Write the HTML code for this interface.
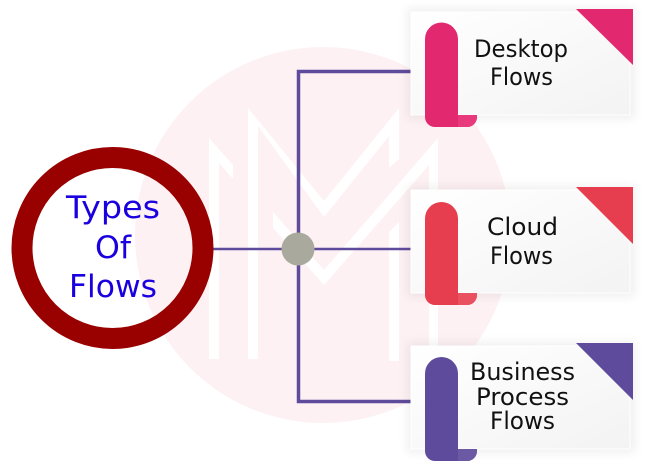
<!DOCTYPE html>
<html>
<head>
<meta charset="utf-8">
<style>
html,body{margin:0;padding:0;background:#fff;width:650px;height:469px;overflow:hidden}
svg{display:block}
text{font-family:"DejaVu Sans",sans-serif;text-anchor:start}
</style>
</head>
<body>
<svg width="650" height="469" viewBox="0 0 650 469" xmlns="http://www.w3.org/2000/svg">
<defs>
<linearGradient id="g" x1="0" y1="0" x2="1" y2="1"><stop offset="0" stop-color="#ffffff"/><stop offset="1" stop-color="#f3f3f3"/></linearGradient>
<filter id="s" x="-15%" y="-25%" width="130%" height="150%"><feGaussianBlur stdDeviation="5"/></filter>
<g id="card">
<rect x="407" y="8" width="228" height="111" fill="#000" opacity=".06" filter="url(#s)"/>
<rect x="411" y="12" width="219" height="103" fill="url(#g)" stroke="#fff" stroke-width="1"/>
</g>
</defs>
<circle cx="323" cy="235" r="188" fill="#fdf1f3"/>
<g fill="#fff">
<path d="M209 138L233 165V179L219 163V359H209Z"/>
<path d="M248 108L324 201L399 108V159L389 168V136L324 217L258 126V359H248Z"/>
<path d="M273 212L324 270L438 138V359H429V165L324 285L273 228Z"/>
<path d="M399 222V361H389V232Z"/>
</g>
<g fill="none" stroke="#5f4b9b">
<path d="M411 71.500H298.500V401.500H411" stroke-width="3.500"/>
<path d="M213 249H411" stroke-width="2.500"/>
</g>
<circle cx="298" cy="249" r="16.500" fill="#a9a99d"/>
<circle cx="112.500" cy="248" r="90.500" fill="none" stroke="#990000" stroke-width="21"/>
<g font-size="31" fill="#1a00df">
<text x="66" y="218" textLength="94" lengthAdjust="spacingAndGlyphs">Types</text>
<text x="95" y="258" textLength="36" lengthAdjust="spacingAndGlyphs">Of</text>
<text x="69" y="297" textLength="88" lengthAdjust="spacingAndGlyphs">Flows</text>
</g>

<use href="#card"/>
<path d="M576 9H633V65Z" fill="#e2296f"/>
<path d="M425 39a16.500 16.500 0 0 1 33 0V115H477V117a10 10 0 0 1-10 10H435a10 10 0 0 1-10-10Z" fill="#e2296f"/>
<path d="M458 115H477V117a10 10 0 0 1-10 10H458Z" fill="#e9397d"/>
<g font-size="24" fill="#111">
<text x="474" y="57" textLength="94" lengthAdjust="spacingAndGlyphs">Desktop</text>
<text x="490" y="85" textLength="63" lengthAdjust="spacingAndGlyphs">Flows</text>
</g>

<g transform="translate(0,178)"><use href="#card"/></g>
<path d="M576 187H633V244Z" fill="#e63e4e"/>
<path d="M425 218.500a16.500 16.500 0 0 1 33 0V293H477V295a10 10 0 0 1-10 10H435a10 10 0 0 1-10-10Z" fill="#e63e4e"/>
<path d="M458 293H477V295a10 10 0 0 1-10 10H458Z" fill="#e95060"/>
<g font-size="24" fill="#111">
<text x="487" y="235" textLength="71" lengthAdjust="spacingAndGlyphs">Cloud</text>
<text x="490" y="264" textLength="63" lengthAdjust="spacingAndGlyphs">Flows</text>
</g>

<g transform="translate(0,334)"><use href="#card"/></g>
<path d="M576 343H633V400Z" fill="#5e4b9b"/>
<path d="M425 373.500a16.500 16.500 0 0 1 33 0V449H477V451a10 10 0 0 1-10 10H435a10 10 0 0 1-10-10Z" fill="#5e4b9b"/>
<path d="M458 449H477V451a10 10 0 0 1-10 10H458Z" fill="#6b5aa3"/>
<g font-size="24" fill="#111">
<text x="470" y="380" textLength="105" lengthAdjust="spacingAndGlyphs">Business</text>
<text x="476" y="405" textLength="93" lengthAdjust="spacingAndGlyphs">Process</text>
<text x="490" y="429" textLength="65" lengthAdjust="spacingAndGlyphs">Flows</text>
</g>
</svg>
</body>
</html>
